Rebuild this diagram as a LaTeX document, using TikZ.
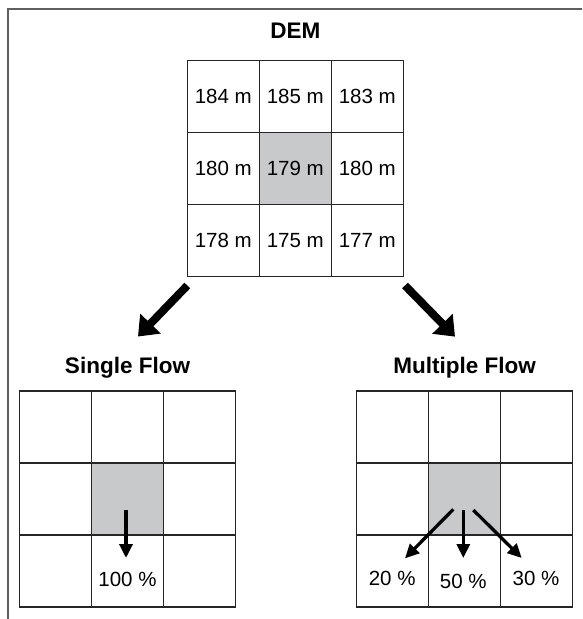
\documentclass[tikz,border=0pt]{standalone}
\usepackage{fontspec}
\setmainfont{Liberation Sans}
\usetikzlibrary{positioning, arrows.meta}
\definecolor{cellgrey}{RGB}{200,201,203}
\definecolor{framegrey}{RGB}{95,95,95}

\begin{document}
\begin{tikzpicture}[x=1pt, y=-1pt, node distance=0pt,
    cell/.style={draw=black!85, line width=1.5pt, minimum size=72pt, inner sep=0pt, outer sep=0pt,
      font=\fontsize{20.5}{24}\selectfont},
    centre/.style={cell, fill=cellgrey},
    title/.style={inner sep=0pt, font=\fontsize{22.5}{27}\selectfont\bfseries},
    pct/.style={inner sep=0pt, font=\fontsize{20.5}{24}\selectfont},
    bigarrow/.style={line width=8pt, -{Triangle[length=18pt, width=27.5pt]}},
    flow/.style={line width=3.3pt, -{Triangle[length=14pt, width=13pt]}}]
    \useasboundingbox (0,0) rectangle (582,619);
    \clip (0,0) rectangle (582,619);
    \draw[framegrey, line width=2pt] (8.3,640) |- (600,9);

    \node[cell] (d11) at (223.3,96.5) {184 m};
    \node[cell, right=of d11] (d12) {185 m};
    \node[cell, right=of d12] (d13) {183 m};
    \node[cell, below=of d11] (d21) {180 m};
    \node[centre, right=of d21] (d22) {179 m};
    \node[cell, right=of d22] (d23) {180 m};
    \node[cell, below=of d21] (d31) {178 m};
    \node[cell, right=of d31] (d32) {175 m};
    \node[cell, right=of d32] (d33) {177 m};
    \node[title, above=21.5pt of d12] (dem) {DEM};

    \node[cell] (s11) at (55.5,427) {};
    \node[cell, right=of s11] (s12) {};
    \node[cell, right=of s12] (s13) {};
    \node[cell, below=of s11] (s21) {};
    \node[centre, right=of s21] (s22) {};
    \node[cell, right=of s22] (s23) {};
    \node[cell, below=of s21] (s31) {};
    \node[cell, right=of s31] (s32) {};
    \node[cell, right=of s32] (s33) {};
    \node[title, above=13pt of s12] (single) {Single Flow};
    \node[pct] (p100) at ([shift={(0,8)}]s32.center) {100 \%};

    \node[cell] (m11) at (392.7,427) {};
    \node[cell, right=of m11] (m12) {};
    \node[cell, right=of m12] (m13) {};
    \node[cell, below=of m11] (m21) {};
    \node[centre, right=of m21] (m22) {};
    \node[cell, right=of m22] (m23) {};
    \node[cell, below=of m21] (m31) {};
    \node[cell, right=of m31] (m32) {};
    \node[cell, right=of m32] (m33) {};
    \node[title, above=13pt of m12] (multi) {Multiple Flow};
    \node[pct] (p20) at ([shift={(-0.5,7)}]m31.center) {20 \%};
    \node[pct] (p50) at ([shift={(-1.4,10.5)}]m32.center) {50 \%};
    \node[pct] (p30) at ([shift={(-0.7,7.3)}]m33.center) {30 \%};

    \draw[bigarrow] ([shift={(0,9)}]d31.south west) -- ([shift={(10.5,-20)}]single.north);
    \draw[bigarrow] ([shift={(1.7,9)}]d33.south east) -- ([shift={(-9.7,-20)}]multi.north);
    \draw[flow] ([shift={(-1.5,11)}]s22.center) -- ([shift={(-1.5,-13)}]s32.center);
    \draw[flow] ([shift={(-11.4,10.3)}]m22.center) -- ([shift={(12.3,-12.7)}]m31.center);
    \draw[flow] ([shift={(-1.4,11)}]m22.center) -- ([shift={(-1.4,-13)}]m32.center);
    \draw[flow] ([shift={(8.6,11)}]m22.center) -- ([shift={(-15,-13)}]m33.center);
\end{tikzpicture}
\end{document}
